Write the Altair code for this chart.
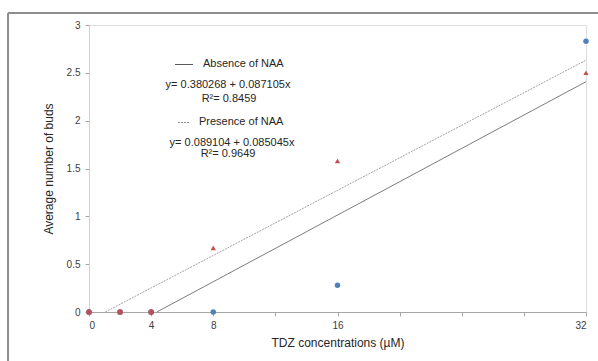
import altair as alt
import pandas as pd

# data
tdz = [0, 2, 4, 8, 16, 32]
absence = [0, 0, 0, 0, 0.28, 2.83]
presence = [0, 0, 0, 0.67, 1.58, 2.5]

# trendline coefficients (intercept, slope)
abs_coef = (-0.380268, 0.087105)
pre_coef = (-0.089104, 0.085045)

x_ticks = list(range(0, 33, 2))
x_labels = [0, 2, 4, 8, 16, 32]
y_ticks = [0, 0.5, 1, 1.5, 2, 2.5, 3]

BLUE = "#4f81bd"
RED = "#c0504d"
FONT = "Liberation Sans"

pts = pd.DataFrame({"x": tdz, "absence": absence, "presence": presence})
overlap = pts[pts["absence"] == pts["presence"]]


def trend(coef, name):
    b, m = coef
    x0 = -b / m
    return pd.DataFrame({"x": [x0, 32], "y": [b + m * x0, b + m * 32], "s": name})


xs = alt.Scale(domain=[0, 32], nice=False)
ys = alt.Scale(domain=[0, 3], nice=False)

xaxis = alt.Axis(values=x_ticks, title="TDZ concentrations (µM)",
                 labelExpr="indexof([0,2,4,8,16,32], datum.value) >= 0 ? datum.label : ''",
                 grid=False, domainColor="#a6a6a6", tickColor="#a6a6a6", tickSize=4,
                 labelFontSize=10, labelColor="#404040", labelFont=FONT,
                 titleFont=FONT, titleFontSize=12, titleFontWeight="normal",
                 titleColor="#262626", titlePadding=7, labelPadding=4)
yaxis = alt.Axis(values=y_ticks, title="Average number of buds", grid=False,
                 format="~g",
                 domainColor="#d0d0d0", tickColor="#a6a6a6", tickSize=4,
                 labelFontSize=10, labelColor="#404040", labelFont=FONT,
                 titleFont=FONT, titleFontSize=12, titleFontWeight="normal",
                 titleColor="#262626", titlePadding=11, labelPadding=5)

base = alt.Chart(pts)

line_abs = alt.Chart(trend(abs_coef, "a")).mark_line(color="#5a5a5a", strokeWidth=0.8).encode(
    x=alt.X("x:Q", scale=xs, axis=xaxis), y=alt.Y("y:Q", scale=ys, axis=yaxis))
line_pre = alt.Chart(trend(pre_coef, "p")).mark_line(color="#8c8c8c", strokeWidth=0.8,
                                                    strokeDash=[2, 1]).encode(
    x=alt.X("x:Q", scale=xs), y=alt.Y("y:Q", scale=ys))

abs_pts = base.mark_point(shape="circle", filled=True, size=30, color=BLUE, opacity=1).encode(
    x=alt.X("x:Q", scale=xs), y=alt.Y("absence:Q", scale=ys))
pre_pts = base.mark_point(shape="triangle-up", filled=True, size=28, color=RED, opacity=1).encode(
    x=alt.X("x:Q", scale=xs), y=alt.Y("presence:Q", scale=ys))
ovl_pts = alt.Chart(overlap).mark_point(shape="circle", filled=True, size=32, color="#b8505a",
                                        opacity=1).encode(
    x=alt.X("x:Q", scale=xs), y=alt.Y("presence:Q", scale=ys))

# legend / equation annotations
leg_abs = alt.Chart(pts).mark_rule(color="#5a5a5a", strokeWidth=0.8).encode(
    x=alt.value(86), x2=alt.value(104), y=alt.value(39.5))
leg_pre = alt.Chart(pts).mark_rule(color="#8c8c8c", strokeWidth=0.8, strokeDash=[2, 1]).encode(
    x=alt.value(89), x2=alt.value(101), y=alt.value(97.5))


def txt(s, x, y, align="left"):
    return alt.Chart(pd.DataFrame({"t": [s]})).mark_text(
        align=align, baseline="middle", font=FONT, fontSize=11, color="#262626"
    ).encode(text="t:N", x=alt.value(x), y=alt.value(y))


texts = [
    txt("Absence of NAA", 114, 39),
    txt("y= 0.380268 + 0.087105x", 139, 60, "center"),
    txt("R²= 0.8459", 140, 74, "center"),
    txt("Presence of NAA", 110, 97),
    txt("y= 0.089104 + 0.085045x", 143, 118, "center"),
    txt("R²= 0.9649", 139, 129, "center"),
]

frame_left = alt.Chart(pts).mark_rule(color="#8c8c8c", strokeWidth=1).encode(
    x=alt.value(-81), y=alt.value(-12), y2=alt.value(400))
frame_top = alt.Chart(pts).mark_rule(color="#8c8c8c", strokeWidth=1).encode(
    x=alt.value(-81), x2=alt.value(520), y=alt.value(-12))

chart = alt.layer(
    line_abs, line_pre, abs_pts, pre_pts, ovl_pts, leg_abs, leg_pre, *texts,
    frame_left, frame_top
).properties(
    width=497, height=287,
    autosize=alt.AutoSizeParams(type="none"),
    padding={"left": 89, "top": 25, "right": 12, "bottom": 49},
).configure_view(stroke=None).configure(background="white")

chart.save("out.html", embed_options={"renderer": "svg", "actions": False})
